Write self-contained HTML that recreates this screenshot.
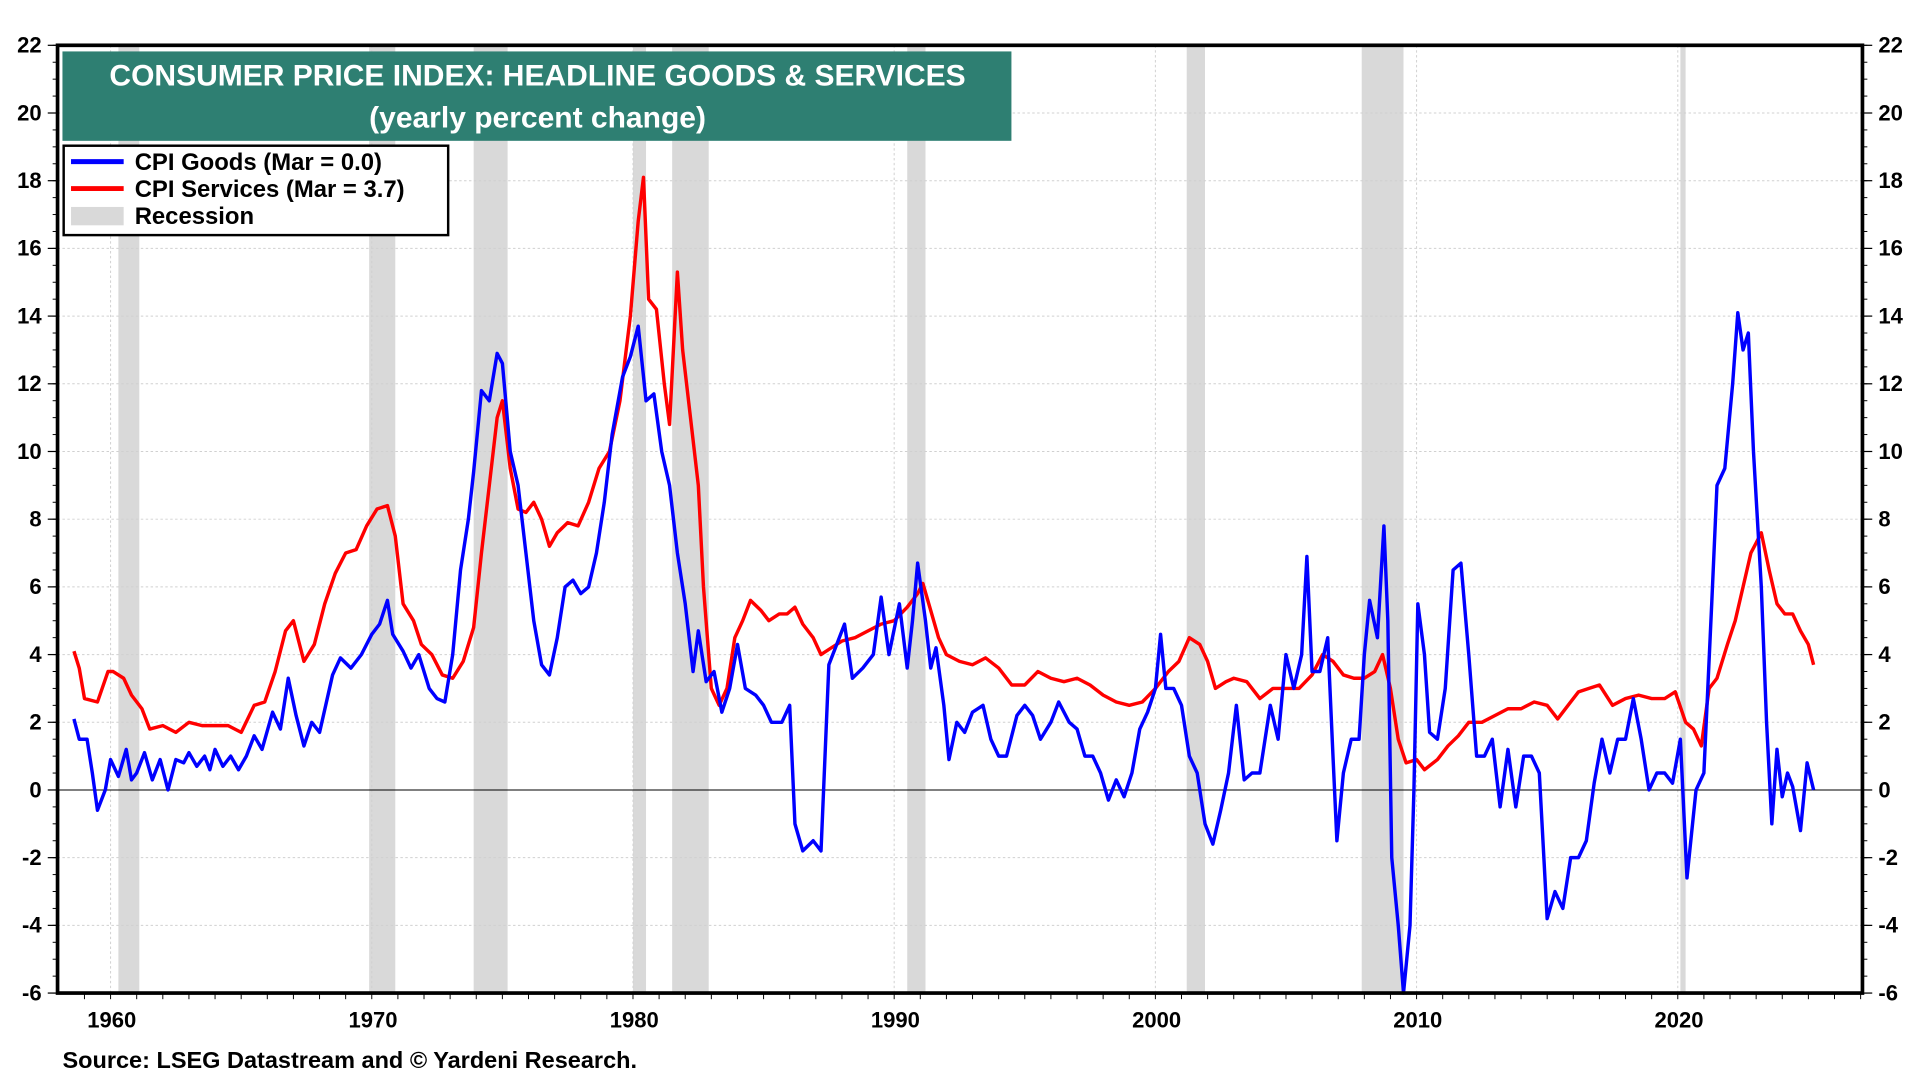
<!DOCTYPE html>
<html><head><meta charset="utf-8"><style>
html,body{margin:0;padding:0;background:#fff;}
svg{display:block;font-family:"Liberation Sans",Arial,sans-serif;font-weight:bold;}
</style></head><body>
<svg id="chart" width="1920" height="1080" viewBox="0 0 1568 882" preserveAspectRatio="none" xmlns="http://www.w3.org/2000/svg">
<g id="recessions"></g>
<g id="grid"></g>
<g id="series"></g>
<g id="axes"></g>
<g>
<rect x="51" y="42" width="775" height="73" fill="#2e7f72"/>
<text x="439" y="70" text-anchor="middle" fill="#fff" font-size="24.5">CONSUMER PRICE INDEX: HEADLINE GOODS &amp; SERVICES</text>
<text x="439" y="104" text-anchor="middle" fill="#fff" font-size="24.5">(yearly percent change)</text>
</g>
<g>
<rect x="52" y="119" width="314" height="73" fill="#fff" stroke="#000" stroke-width="2"/>
<line x1="58" y1="132" x2="101" y2="132" stroke="#0000ff" stroke-width="4"/>
<text x="110" y="139" font-size="19.5">CPI Goods (Mar = 0.0)</text>
<line x1="58" y1="154" x2="101" y2="154" stroke="#ff0000" stroke-width="4"/>
<text x="110" y="161" font-size="19.5">CPI Services (Mar = 3.7)</text>
<rect x="58" y="169" width="43" height="15" fill="#d9d9d9"/>
<text x="110" y="183" font-size="19.5">Recession</text>
</g>
<text x="51" y="872" font-size="19.2">Source: LSEG Datastream and © Yardeni Research.</text>
</svg>
<script>
const yTicks=[22,20,18,16,14,12,10,8,6,4,2,0,-2,-4,-6];
const xTickYears=[1960,1970,1980,1990,2000,2010,2020];
const recessionStarts=[1960.3,1969.9,1973.9,1980.0,1981.5,1990.5,2001.2,2007.9,2020.1];
const recessionEnds=[1961.1,1970.9,1975.2,1980.5,1982.9,1991.2,2001.9,2009.5,2020.3];
const goodsYears=[1958.6,1958.8,1959.1,1959.3,1959.5,1959.8,1960.0,1960.3,1960.6,1960.8,1961.0,1961.3,1961.6,1961.9,1962.2,1962.5,1962.8,1963.0,1963.3,1963.6,1963.8,1964.0,1964.3,1964.6,1964.9,1965.2,1965.5,1965.8,1966.2,1966.5,1966.8,1967.1,1967.4,1967.7,1968.0,1968.5,1968.8,1969.2,1969.6,1970.0,1970.3,1970.6,1970.8,1971.2,1971.5,1971.8,1972.2,1972.5,1972.8,1973.1,1973.4,1973.7,1973.9,1974.2,1974.5,1974.8,1975.0,1975.3,1975.6,1975.9,1976.2,1976.5,1976.8,1977.1,1977.4,1977.7,1978.0,1978.3,1978.6,1978.9,1979.2,1979.6,1979.9,1980.2,1980.5,1980.8,1981.1,1981.4,1981.7,1982.0,1982.3,1982.5,1982.8,1983.1,1983.4,1983.7,1984.0,1984.3,1984.7,1985.0,1985.3,1985.7,1986.0,1986.2,1986.5,1986.9,1987.2,1987.5,1987.8,1988.1,1988.4,1988.8,1989.2,1989.5,1989.8,1990.2,1990.5,1990.7,1990.9,1991.2,1991.4,1991.6,1991.9,1992.1,1992.4,1992.7,1993.0,1993.4,1993.7,1994.0,1994.3,1994.7,1995.0,1995.3,1995.6,1996.0,1996.3,1996.7,1997.0,1997.3,1997.6,1997.9,1998.2,1998.5,1998.8,1999.1,1999.4,1999.7,2000.0,2000.2,2000.4,2000.7,2001.0,2001.3,2001.6,2001.9,2002.2,2002.5,2002.8,2003.1,2003.4,2003.7,2004.0,2004.4,2004.7,2005.0,2005.3,2005.6,2005.8,2006.0,2006.3,2006.6,2006.8,2006.95,2007.2,2007.5,2007.8,2008.0,2008.2,2008.5,2008.75,2008.9,2009.05,2009.3,2009.5,2009.75,2009.9,2010.05,2010.3,2010.5,2010.8,2011.1,2011.4,2011.7,2012.0,2012.3,2012.6,2012.9,2013.2,2013.5,2013.8,2014.1,2014.4,2014.7,2015.0,2015.3,2015.6,2015.9,2016.2,2016.5,2016.8,2017.1,2017.4,2017.7,2018.0,2018.3,2018.6,2018.9,2019.2,2019.5,2019.8,2020.1,2020.35,2020.7,2021.0,2021.3,2021.5,2021.8,2022.1,2022.3,2022.5,2022.7,2022.9,2023.2,2023.4,2023.6,2023.8,2024.0,2024.2,2024.4,2024.7,2024.95,2025.2];
const goodsValues=[2.1,1.5,1.5,0.5,-0.6,0,0.9,0.4,1.2,0.3,0.5,1.1,0.3,0.9,0.0,0.9,0.8,1.1,0.7,1.0,0.6,1.2,0.7,1.0,0.6,1.0,1.6,1.2,2.3,1.8,3.3,2.2,1.3,2.0,1.7,3.4,3.9,3.6,4.0,4.6,4.9,5.6,4.6,4.1,3.6,4.0,3.0,2.7,2.6,4.0,6.5,8.0,9.4,11.8,11.5,12.9,12.6,10.0,9.0,7.0,5.0,3.7,3.4,4.5,6.0,6.2,5.8,6.0,7.0,8.5,10.5,12.2,12.8,13.7,11.5,11.7,10.0,9.0,7.0,5.5,3.5,4.7,3.2,3.5,2.3,3.0,4.3,3.0,2.8,2.5,2.0,2.0,2.5,-1.0,-1.8,-1.5,-1.8,3.7,4.3,4.9,3.3,3.6,4.0,5.7,4.0,5.5,3.6,5.0,6.7,5.0,3.6,4.2,2.5,0.9,2.0,1.7,2.3,2.5,1.5,1.0,1.0,2.2,2.5,2.2,1.5,2.0,2.6,2.0,1.8,1.0,1.0,0.5,-0.3,0.3,-0.2,0.5,1.8,2.3,3.0,4.6,3.0,3.0,2.5,1.0,0.5,-1.0,-1.6,-0.6,0.5,2.5,0.3,0.5,0.5,2.5,1.5,4.0,3.0,4.0,6.9,3.5,3.5,4.5,1.0,-1.5,0.5,1.5,1.5,4.0,5.6,4.5,7.8,5.0,-2.0,-4.0,-6.0,-4.0,0,5.5,4.0,1.7,1.5,3.0,6.5,6.7,4.0,1.0,1.0,1.5,-0.5,1.2,-0.5,1.0,1.0,0.5,-3.8,-3.0,-3.5,-2.0,-2.0,-1.5,0.2,1.5,0.5,1.5,1.5,2.7,1.5,0.0,0.5,0.5,0.2,1.5,-2.6,0.0,0.5,5.5,9.0,9.5,12.0,14.1,13.0,13.5,10.0,6.0,2.0,-1.0,1.2,-0.2,0.5,0.1,-1.2,0.8,0.0];
const servicesYears=[1958.6,1958.8,1959.0,1959.5,1959.9,1960.1,1960.5,1960.8,1961.2,1961.5,1962.0,1962.5,1963.0,1963.5,1964.0,1964.5,1965.0,1965.5,1965.9,1966.3,1966.7,1967.0,1967.4,1967.8,1968.2,1968.6,1969.0,1969.4,1969.8,1970.2,1970.6,1970.9,1971.2,1971.6,1971.9,1972.3,1972.7,1973.1,1973.5,1973.9,1974.2,1974.5,1974.8,1975.0,1975.3,1975.6,1975.9,1976.2,1976.5,1976.8,1977.1,1977.5,1977.9,1978.3,1978.7,1979.1,1979.5,1979.9,1980.2,1980.4,1980.6,1980.9,1981.2,1981.4,1981.7,1981.9,1982.2,1982.5,1982.7,1983.0,1983.3,1983.6,1983.9,1984.2,1984.5,1984.9,1985.2,1985.6,1985.9,1986.2,1986.5,1986.9,1987.2,1987.6,1988.0,1988.5,1989.0,1989.5,1990.0,1990.5,1990.9,1991.1,1991.4,1991.7,1992.0,1992.5,1993.0,1993.5,1994.0,1994.5,1995.0,1995.5,1996.0,1996.5,1997.0,1997.5,1998.0,1998.5,1999.0,1999.5,2000.0,2000.5,2000.9,2001.3,2001.7,2002.0,2002.3,2002.7,2003.0,2003.5,2004.0,2004.5,2005.0,2005.5,2006.0,2006.4,2006.8,2007.2,2007.6,2008.0,2008.4,2008.7,2009.0,2009.3,2009.6,2010.0,2010.3,2010.8,2011.2,2011.6,2012.0,2012.5,2013.0,2013.5,2014.0,2014.5,2015.0,2015.4,2015.8,2016.2,2016.6,2017.0,2017.5,2018.0,2018.5,2019.0,2019.5,2019.9,2020.3,2020.6,2020.9,2021.2,2021.5,2021.9,2022.2,2022.5,2022.8,2023.0,2023.2,2023.5,2023.8,2024.1,2024.4,2024.7,2025.0,2025.2];
const servicesValues=[4.1,3.6,2.7,2.6,3.5,3.5,3.3,2.8,2.4,1.8,1.9,1.7,2.0,1.9,1.9,1.9,1.7,2.5,2.6,3.5,4.7,5.0,3.8,4.3,5.5,6.4,7.0,7.1,7.8,8.3,8.4,7.5,5.5,5.0,4.3,4.0,3.4,3.3,3.8,4.8,7.0,9.0,11.0,11.5,9.5,8.3,8.2,8.5,8.0,7.2,7.6,7.9,7.8,8.5,9.5,10.0,11.5,14.0,16.8,18.1,14.5,14.2,12.0,10.8,15.3,13.0,11.0,9.0,6.0,3.0,2.5,3.0,4.5,5.0,5.6,5.3,5.0,5.2,5.2,5.4,4.9,4.5,4.0,4.2,4.4,4.5,4.7,4.9,5.0,5.4,5.8,6.1,5.3,4.5,4.0,3.8,3.7,3.9,3.6,3.1,3.1,3.5,3.3,3.2,3.3,3.1,2.8,2.6,2.5,2.6,3.0,3.5,3.8,4.5,4.3,3.8,3.0,3.2,3.3,3.2,2.7,3.0,3.0,3.0,3.4,4.0,3.8,3.4,3.3,3.3,3.5,4.0,3.0,1.5,0.8,0.9,0.6,0.9,1.3,1.6,2.0,2.0,2.2,2.4,2.4,2.6,2.5,2.1,2.5,2.9,3.0,3.1,2.5,2.7,2.8,2.7,2.7,2.9,2.0,1.8,1.3,3.0,3.3,4.3,5.0,6.0,7.0,7.3,7.6,6.5,5.5,5.2,5.2,4.7,4.3,3.7];

const NS='http://www.w3.org/2000/svg';
const L=47,R=1521,T=37,B=811,Y0=1957.97,Y1=2027.07;
function xs(y){return L+(y-Y0)/(Y1-Y0)*(R-L);}
function ys(v){return T+(22-v)/28*(B-T);}
function mk(tag,attrs,parent){const e=document.createElementNS(NS,tag);for(const k in attrs)e.setAttribute(k,attrs[k]);parent.appendChild(e);return e;}
const rg=document.getElementById('recessions'),gg=document.getElementById('grid'),sg=document.getElementById('series'),ag=document.getElementById('axes');
for(let i=0;i<recessionStarts.length;i++){
  const r=mk('rect',{x:xs(recessionStarts[i]),y:T,width:xs(recessionEnds[i])-xs(recessionStarts[i]),height:B-T,fill:'#d9d9d9'},rg);
  
  
}
yTicks.forEach(v=>{
  if(v!==0&&v!==22&&v!==-6){const g=mk('line',{x1:L,x2:R,y1:ys(v),y2:ys(v),stroke:'#d0d0d0','stroke-width':0.8,'stroke-dasharray':'2,2'},gg);
  
  }
  const t1=mk('text',{x:34,y:ys(v)+6,'text-anchor':'end','font-size':18},ag);t1.textContent=v;
  
  
  const t2=mk('text',{x:1534,y:ys(v)+6,'font-size':18},ag);t2.textContent=v;
  
  
  mk('line',{x1:L-8,x2:L,y1:ys(v),y2:ys(v),stroke:'#000','stroke-width':1},ag);
  mk('line',{x1:R,x2:R+8,y1:ys(v),y2:ys(v),stroke:'#000','stroke-width':1},ag);
});
for(let v=-6;v<=22;v+=0.5){mk('line',{x1:L-4,x2:L,y1:ys(v),y2:ys(v),stroke:'#000','stroke-width':0.8},ag);mk('line',{x1:R,x2:R+4,y1:ys(v),y2:ys(v),stroke:'#000','stroke-width':0.8},ag);}
xTickYears.forEach(y=>{
  const g=mk('line',{x1:xs(y),x2:xs(y),y1:T,y2:B,stroke:'#d0d0d0','stroke-width':0.8,'stroke-dasharray':'2,2'},gg);
  
  
  const t=mk('text',{x:xs(y)+1,y:B+28,'text-anchor':'middle','font-size':18},ag);t.textContent=y;
  
  
});
for(let y=1959;y<=2027;y++)mk('line',{x1:xs(y),x2:xs(y),y1:B,y2:B+5,stroke:'#000','stroke-width':0.8},ag);
const z=mk('line',{x1:L,x2:R,y1:ys(0),y2:ys(0),stroke:'#000','stroke-width':0.8},gg);


function path(xa,va,color,name){
  const d=xa.map((y,i)=>(i?'L':'M')+xs(y).toFixed(1)+','+ys(va[i]).toFixed(1)).join('');
  const p=mk('path',{d:d,fill:'none',stroke:color,'stroke-width':2.8,'stroke-linejoin':'round'},sg);
  
  
}
path(servicesYears,servicesValues,'#ff0000','cpi-services-line');
path(goodsYears,goodsValues,'#0000ff','cpi-goods-line');
const fr=mk('rect',{x:L,y:T,width:R-L,height:B-T,fill:'none',stroke:'#000','stroke-width':3},ag);


</script>
</body></html>
